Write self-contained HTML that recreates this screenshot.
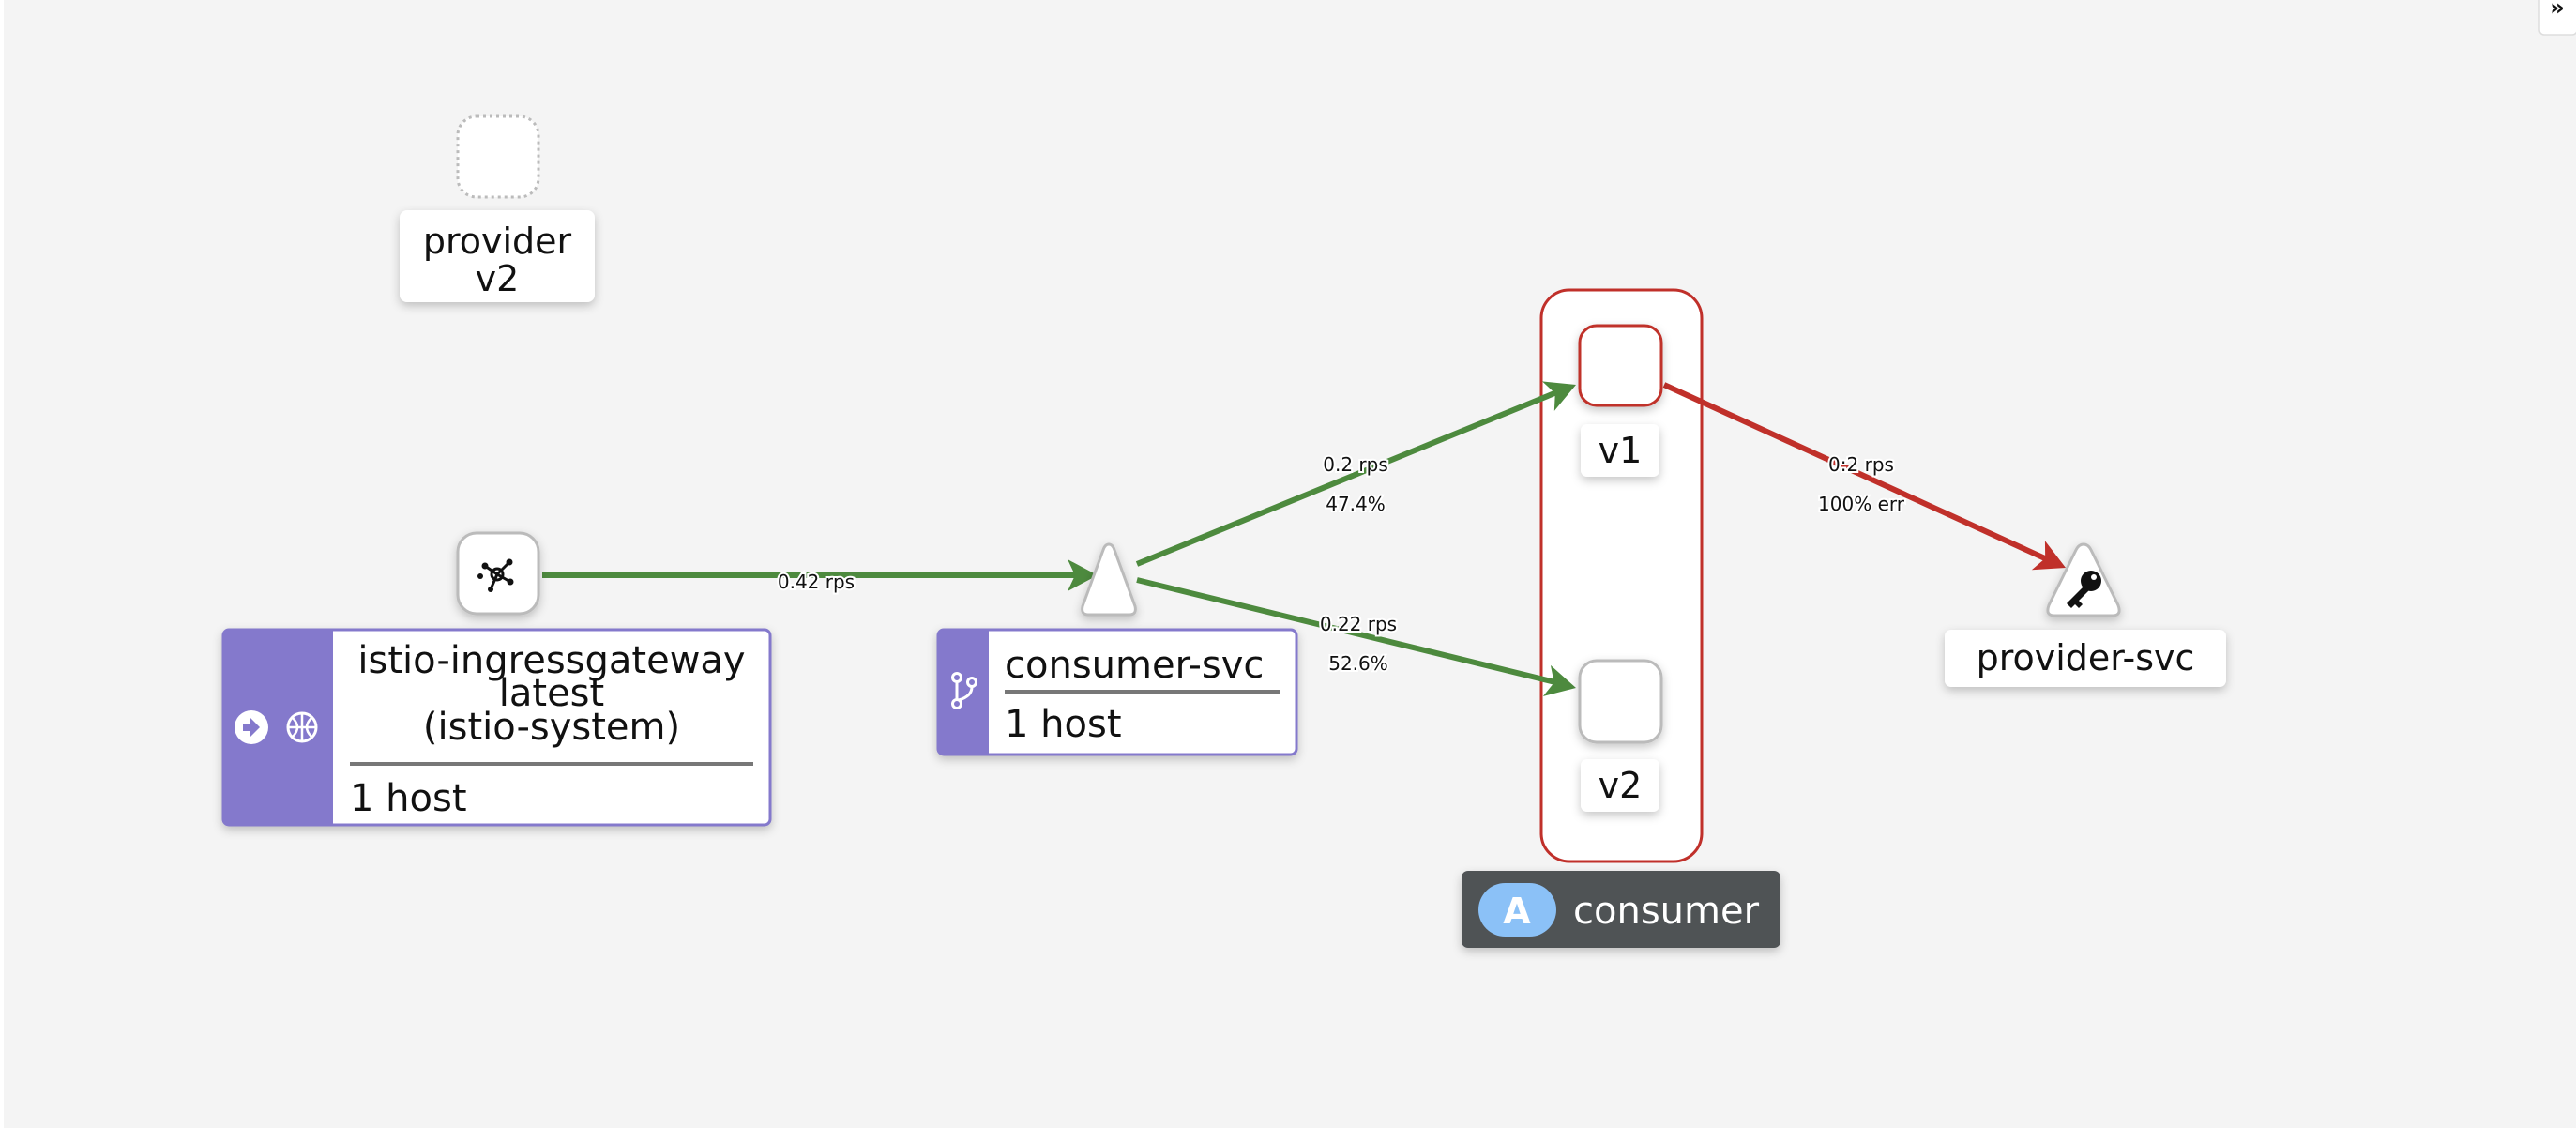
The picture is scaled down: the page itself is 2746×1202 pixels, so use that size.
<!DOCTYPE html>
<html><head><meta charset="utf-8"><style>
html,body{margin:0;padding:0;background:#f4f4f4;}
svg{display:block}
text{font-family:"DejaVu Sans","Liberation Sans",sans-serif;}
</style></head><body>
<svg width="2746" height="1202" viewBox="0 0 2746 1202" xmlns="http://www.w3.org/2000/svg">
<defs>
<filter id="sh" x="-20%" y="-20%" width="140%" height="150%"><feDropShadow dx="0" dy="4" stdDeviation="5" flood-color="#000" flood-opacity="0.22"/></filter>
</defs>
<rect x="0" y="0" width="2746" height="1202" fill="#f4f4f4"/>
<rect x="0" y="0" width="4" height="1202" fill="#fff"/>
<!-- top right button -->
<rect x="2707" y="-8" width="40" height="45" rx="5" fill="#fff" stroke="#ddd" stroke-width="1.5"/>
<text x="2726" y="16" font-size="24" font-weight="bold" text-anchor="middle" fill="#111">»</text>

<!-- group box (behind edges) -->
<rect x="1643" y="309" width="171" height="609" rx="30" fill="#fff" stroke="#c0302a" stroke-width="3"/>

<!-- edges -->
<g stroke="#4d8a3e" stroke-width="6" fill="none">
<line x1="578" y1="613" x2="1150" y2="613"/>
<line x1="1212" y1="601" x2="1662" y2="417"/>
<line x1="1212" y1="618" x2="1662" y2="728"/>
</g>
<path d="M1170,613 L1138,596 L1146,613 L1138,630 Z" fill="#4d8a3e"/>
<g transform="translate(1680,410) rotate(-22.3)"><path d="M0,0 L-32,-17 L-24,0 L-32,17 Z" fill="#4d8a3e"/></g>
<g transform="translate(1680,733) rotate(13.7)"><path d="M0,0 L-32,-17 L-24,0 L-32,17 Z" fill="#4d8a3e"/></g>
<line x1="1774" y1="410" x2="2182" y2="596" stroke="#c0302a" stroke-width="6"/>
<g transform="translate(2202,605) rotate(24.5)"><path d="M0,0 L-32,-17 L-24,0 L-32,17 Z" fill="#c0302a"/></g>

<!-- edge labels -->
<g font-size="20" fill="#111" text-anchor="middle" style="paint-order:stroke" stroke="#fff" stroke-width="4">
<text x="870" y="627">0.42 rps</text>
<text x="1445" y="502">0.2 rps</text>
<text x="1445" y="544">47.4%</text>
<text x="1448" y="672">0.22 rps</text>
<text x="1448" y="714">52.6%</text>
<text x="1984" y="502">0:2 rps</text>
<text x="1984" y="544">100% err</text>
</g>

<!-- provider v2 -->
<rect x="488" y="124" width="86" height="86" rx="20" fill="#fff" stroke="#bbb" stroke-width="3" stroke-dasharray="3,4"/>
<rect x="426" y="224" width="208" height="98" rx="8" fill="#fff" filter="url(#sh)"/>
<text x="530" y="270" font-size="38" text-anchor="middle" fill="#111">provider</text>
<text x="530" y="310" font-size="38" text-anchor="middle" fill="#111">v2</text>

<!-- gateway icon node -->
<rect x="488" y="568" width="86" height="86" rx="20" fill="#fff" stroke="#bbb" stroke-width="3" filter="url(#sh)"/>
<g stroke="#111" stroke-width="3" fill="none">
<circle cx="530" cy="612" r="6"/>
<line x1="530" y1="612" x2="517" y2="603"/><line x1="530" y1="612" x2="543" y2="599"/><line x1="530" y1="612" x2="544" y2="620"/><line x1="530" y1="612" x2="523" y2="628"/>
</g>
<g fill="#111"><circle cx="517" cy="603" r="3.5"/><circle cx="543" cy="599" r="3.5"/><circle cx="544" cy="620" r="3.5"/><circle cx="523" cy="628" r="3"/><circle cx="512" cy="614" r="3"/></g>

<!-- gateway label -->
<g filter="url(#sh)">
<rect x="238" y="671" width="583" height="208" rx="6" fill="#fff" stroke="#8479cc" stroke-width="3"/>
<path d="M244,671 H355 V879 H244 A6,6 0 0 1 238,873 V677 A6,6 0 0 1 244,671 Z" fill="#8479cc"/>
</g>
<circle cx="268" cy="775" r="18" fill="#fff"/>
<path d="M259,771 h8 v-6 l10,10 -10,10 v-6 h-8 z" fill="#8479cc"/>
<circle cx="322" cy="775" r="15" fill="none" stroke="#fff" stroke-width="3"/>
<path d="M307,775 h30 M322,760 v30 M312,765 q10,10 0,20 M332,765 q-10,10 0,20" stroke="#fff" stroke-width="2.5" fill="none"/>
<g font-size="40" fill="#111" text-anchor="middle">
<text x="588" y="717">istio-ingressgateway</text>
<text x="588" y="752">latest</text>
<text x="588" y="788">(istio-system)</text>
</g>
<rect x="373" y="812" width="430" height="4" fill="#777"/>
<text x="373" y="864" font-size="40" fill="#111">1 host</text>

<!-- consumer-svc triangle -->
<path d="M1182,580 Q1186,580 1188,586 L1210,646 Q1212,655 1204,655 L1160,655 Q1152,655 1154,646 L1176,586 Q1178,580 1182,580 Z" fill="#fff" stroke="#bbb" stroke-width="3" filter="url(#sh)"/>

<!-- consumer-svc label -->
<g filter="url(#sh)">
<rect x="1000" y="671" width="382" height="133" rx="6" fill="#fff" stroke="#8479cc" stroke-width="3"/>
<path d="M1006,671 H1054 V804 H1006 A6,6 0 0 1 1000,798 V677 A6,6 0 0 1 1006,671 Z" fill="#8479cc"/>
</g>
<g stroke="#fff" stroke-width="3" fill="none"><circle cx="1020" cy="722" r="4.5"/><circle cx="1036" cy="727" r="4.5"/><circle cx="1020" cy="750" r="4.5"/><line x1="1020" y1="727" x2="1020" y2="745"/><path d="M1036,732 q0,10 -14,14"/></g>
<text x="1071" y="722" font-size="40" fill="#111">consumer-svc</text>
<rect x="1071" y="735" width="293" height="4" fill="#777"/>
<text x="1071" y="785" font-size="40" fill="#111">1 host</text>

<!-- group nodes -->
<rect x="1684" y="347" width="87" height="85" rx="18" fill="#fff" stroke="#c0302a" stroke-width="3" filter="url(#sh)"/>
<rect x="1685" y="452" width="84" height="56" rx="7" fill="#fff" filter="url(#sh)"/>
<text x="1727" y="493" font-size="38" text-anchor="middle" fill="#111">v1</text>
<rect x="1684" y="704" width="87" height="87" rx="18" fill="#fff" stroke="#bbb" stroke-width="3" filter="url(#sh)"/>
<rect x="1685" y="809" width="84" height="56" rx="7" fill="#fff" filter="url(#sh)"/>
<text x="1727" y="850" font-size="38" text-anchor="middle" fill="#111">v2</text>

<!-- consumer namespace label -->
<rect x="1558" y="928" width="340" height="82" rx="7" fill="#4f5255" filter="url(#sh)"/>
<rect x="1576" y="941" width="83" height="57" rx="28.5" fill="#8bc1f7"/>
<text x="1617" y="984" font-size="38" font-weight="bold" text-anchor="middle" fill="#fff">A</text>
<text x="1677" y="984" font-size="40" fill="#fff">consumer</text>

<!-- provider-svc triangle -->
<path d="M2221,580 Q2226,580 2229,586 L2258,645 Q2262,656 2252,656 L2190,656 Q2180,656 2184,645 L2213,586 Q2216,580 2221,580 Z" fill="#fff" stroke="#bbb" stroke-width="3" filter="url(#sh)"/>
<circle cx="2229" cy="619" r="11" fill="#111"/>
<circle cx="2232" cy="615" r="3" fill="#fff"/>
<path d="M2222,624 L2203,643 L2208,648 L2212,644 L2216,648 L2220,644 L2216,640 L2228,628 Z" fill="#111"/>

<rect x="2073" y="671" width="300" height="61" rx="7" fill="#fff" filter="url(#sh)"/>
<text x="2223" y="714" font-size="38" text-anchor="middle" fill="#111">provider-svc</text>
</svg>
</body></html>
